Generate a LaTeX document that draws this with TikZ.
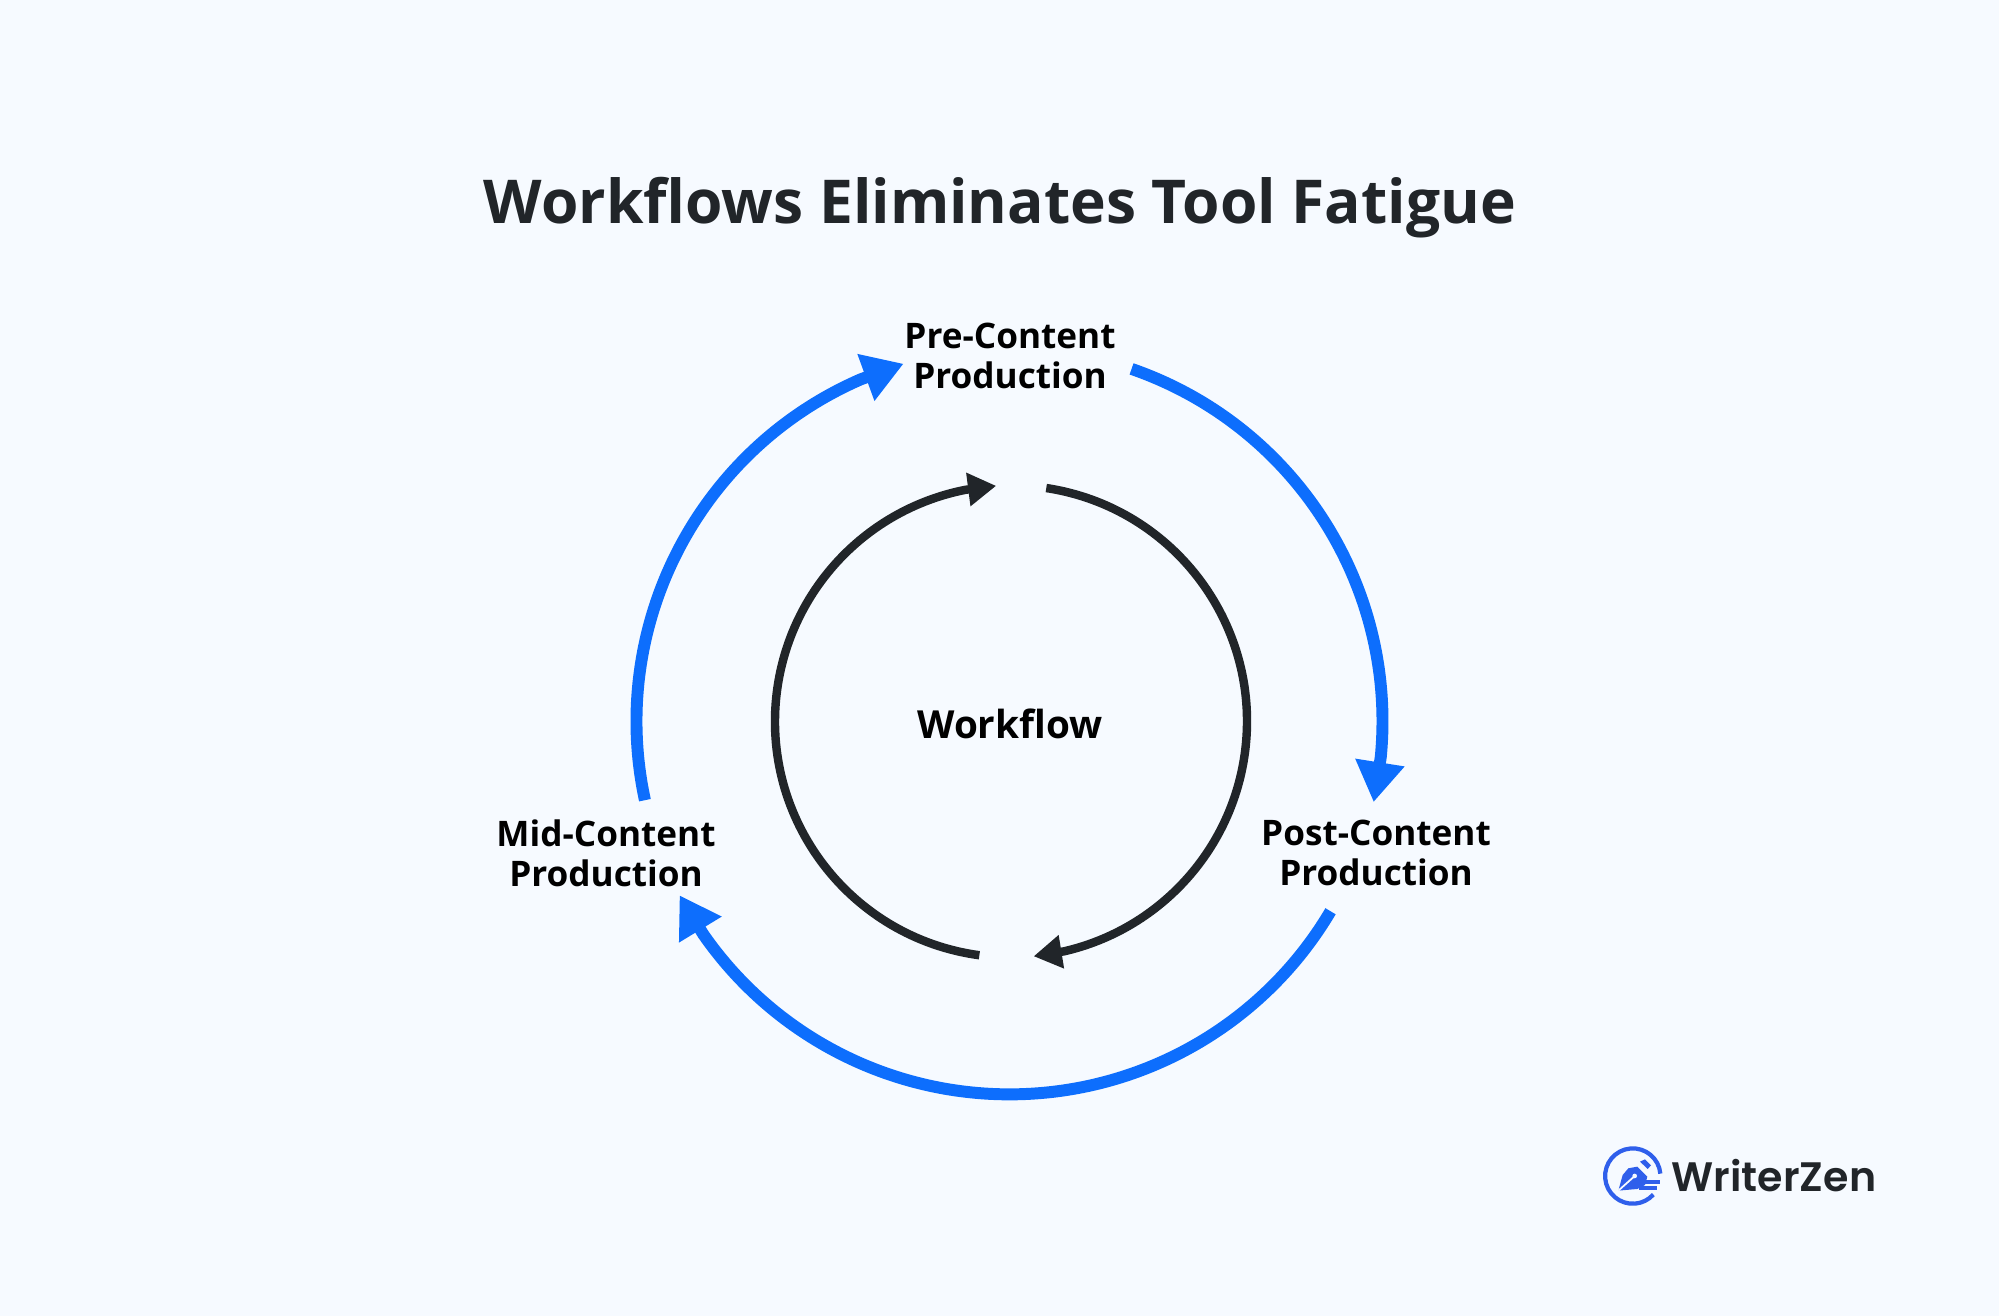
\documentclass[tikz,border=0pt]{standalone}
\usepackage{fontspec}
\setmainfont{Open Sans}
\newfontfamily\logofont{Poppins SemiBold}
\usetikzlibrary{calc,arrows.meta}

\definecolor{pagebg}{HTML}{F6FAFF}
\definecolor{arcblue}{HTML}{0D6EFD}
\definecolor{arcdark}{HTML}{212529}
\definecolor{logoblue}{HTML}{2F5FEB}

\tikzset{
    bluearc/.style={line width=3.4pt,color=arcblue,-{Triangle[length=11.4pt,width=13.4pt]}},
    darkarc/.style={line width=2.4pt,color=arcdark,-{Triangle[length=8pt,width=9.1pt]}},
    steplabel/.style={font=\fontsize{10pt}{11.4pt}\selectfont\bfseries,align=center,text=black,inner sep=0pt},
}

\begin{document}
\begin{tikzpicture}[x=0.01cm,y=0.01cm]
    \fill[pagebg] (0,0) rectangle (1999,1316);
    \useasboundingbox (0,0) rectangle (1999,1316);

    \coordinate (C) at (1009.5,594.6);
    \coordinate (D) at (1011,594.6);
    \node (title) at (1000,1108) [font=\fontsize{17.2pt}{20pt}\selectfont\bfseries,text=arcdark,inner sep=0pt] {Workflows Eliminates Tool Fatigue};

    \node (pre) at (1010,960) [steplabel] {Pre-Content\\Production};
    \node (post) at (1376,463) [steplabel] {Post-Content\\Production};
    \node (mid) at (606,463) [steplabel] {Mid-Content\\Production};
    \node (workflow) at (1010,592) [steplabel,font=\fontsize{11pt}{12pt}\selectfont\bfseries] {Workflow};

    % outer ring
    \draw[bluearc] ($(C)+(70.9:373)$) arc[start angle=70.9,end angle=-5.5,radius=373] -- ($(C)+(-12.5:373)$);
    \draw[bluearc] ($(C)+(-30.6:373)$) arc[start angle=-30.6,end angle=-145.2,radius=373] -- ($(C)+(-152.2:373)$);
    \draw[bluearc] ($(C)+(192.2:373)$) arc[start angle=192.2,end angle=113.5,radius=373] -- ($(C)+(106.5:373)$);

    % inner ring
    \draw[darkarc] ($(D)+(81.4:236)$) arc[start angle=81.4,end angle=-77,radius=236] -- ($(D)+(-84.5:236)$);
    \draw[darkarc] ($(D)+(262.3:236)$) arc[start angle=262.3,end angle=101.1,radius=236] -- ($(D)+(93.6:236)$);

    % logo
    \begin{scope}[shift={(1560,196)},x=0.01cm/3,y=-0.01cm/3]
        \draw[logoblue,line width=1.2pt] (301,161) arc[start angle=-5,end angle=-318,radius=83];
        \fill[logoblue] (175,212) -- (188,165) -- (205,145) -- (232,140) -- (262,170) -- (255,195) -- (232,207) -- cycle;
        \fill[logoblue] (240,125) -- (255,118) -- (273,136) -- (263,147) -- cycle;
        \draw[pagebg,line width=.5pt] (175,212) -- (222,170);
        \fill[pagebg] (224,168) circle (7);
        \draw[logoblue,line width=1.2pt] (250,185) -- (300,185);
        \draw[logoblue,line width=1.2pt] (238,205) -- (292,205);
    \end{scope}
    \node (logotext) at (1774,140) [font=\logofont\fontsize{11.7pt}{12pt}\selectfont,text=arcdark,inner sep=0pt] {WriterZen};
\end{tikzpicture}
\end{document}
